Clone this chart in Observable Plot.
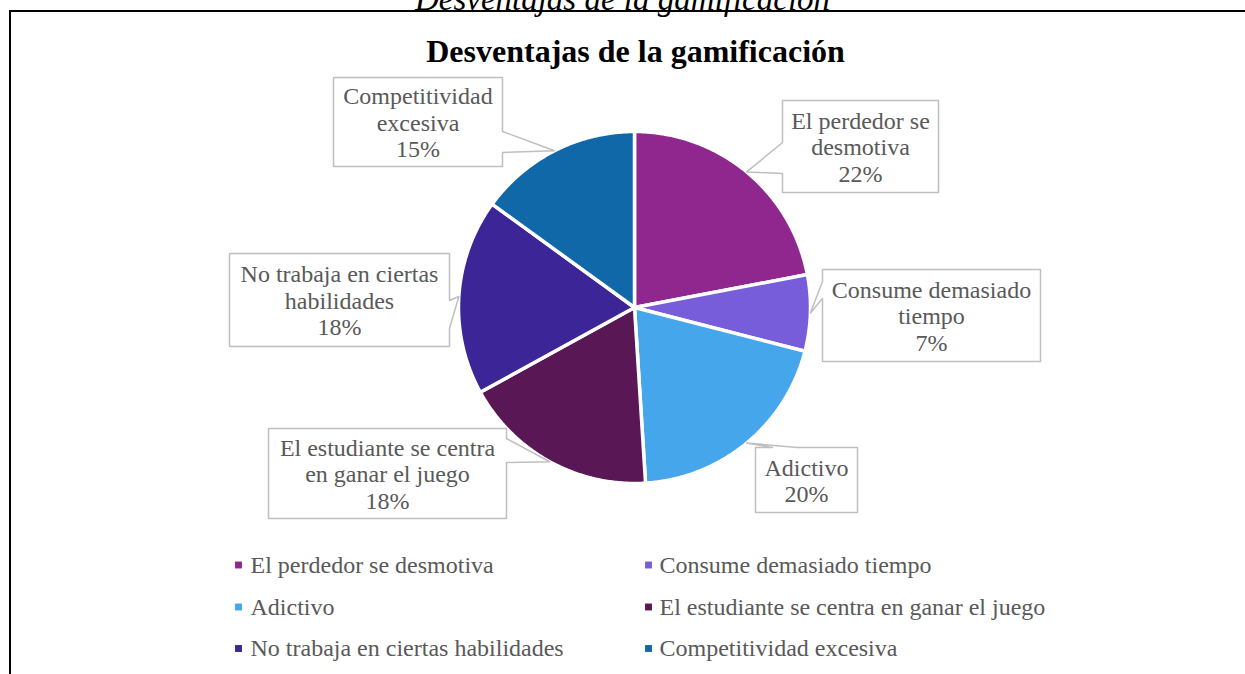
<!DOCTYPE html>
<html><head><meta charset="utf-8">
<script src="https://cdn.jsdelivr.net/npm/d3@7"></script>
<script src="https://cdn.jsdelivr.net/npm/@observablehq/plot@0.6"></script>
<style>
html,body{margin:0;padding:0;background:#fff;overflow:hidden;width:1245px;height:674px;}
#frame{position:absolute;left:9px;top:10px;width:1400px;height:800px;border-top:2px solid #000;border-left:2px solid #000;}
#chart{position:absolute;left:0;top:0;}
</style></head><body>
<div id="frame"></div>
<div id="chart"></div>
<script>
// ---- data ----
const title = "Desventajas de la gamificación";
const categories = [
  "El perdedor se desmotiva",
  "Consume demasiado tiempo",
  "Adictivo",
  "El estudiante se centra en ganar el juego",
  "No trabaja en ciertas habilidades",
  "Competitividad excesiva"
];
const percents = [22, 7, 20, 18, 18, 15];
const labelLines = [
  ["El perdedor se", "desmotiva"],
  ["Consume demasiado", "tiempo"],
  ["Adictivo"],
  ["El estudiante se centra", "en ganar el juego"],
  ["No trabaja en ciertas", "habilidades"],
  ["Competitividad", "excesiva"]
];
const colors = ["#90278e", "#775dd9", "#46a6ec", "#5a1755", "#3b2597", "#1168a8"];

// ---- layout (pixels) ----
const W = 1245, H = 674, CX = 634, CY = 307, R = 176;
const callouts = [
  {box: [782, 100, 938, 192], side: "left",  base: [142, 173]},
  {box: [822, 269, 1040, 361], side: "left", base: [281, 298]},
  {box: [755, 447, 857, 512], side: "top",   base: [772, 797]},
  {box: [268, 428, 506, 518], side: "right", base: [438, 462]},
  {box: [229, 253, 449, 346], side: "right", base: [300, 328]},
  {box: [333, 77, 502, 166], side: "right",  base: [131, 152]}
];
const legendRows = [564.5, 606.5, 648];
const legendMarkX = [238, 648];
const legendTextX = [250, 659];
const FS = 24, LH = 26.5;
const gray = "#595959";

const ux = px => (px - CX) / R;
const uy = py => (CY - py) / R;

// ---- pie geometry from data ----
const arcs = d3.pie().sort(null).value(d => d)(percents);
const slicePts = [];
arcs.forEach((a, i) => {
  const cat = categories[i];
  slicePts.push({cat, x: 0, y: 0});
  const n = Math.max(2, Math.ceil((a.endAngle - a.startAngle) / (Math.PI / 360)));
  for (let k = 0; k <= n; k++) {
    const t = a.startAngle + (a.endAngle - a.startAngle) * k / n;
    slicePts.push({cat, x: Math.sin(t), y: Math.cos(t)});
  }
});

// ---- callouts ----
const calloutPts = [];
const calloutText = [];
arcs.forEach((a, i) => {
  const c = callouts[i];
  const mid = (a.startAngle + a.endAngle) / 2;
  const tip = [Math.sin(mid) * 1.0, Math.cos(mid) * 1.0];
  const [x0, y0, x1, y1] = c.box;
  const [b0, b1] = c.base;
  let pts;
  if (c.side === "left") {
    pts = [[ux(x0), uy(y0)], [ux(x1), uy(y0)], [ux(x1), uy(y1)], [ux(x0), uy(y1)], [ux(x0), uy(b1)], tip, [ux(x0), uy(b0)]];
  } else if (c.side === "right") {
    pts = [[ux(x0), uy(y0)], [ux(x1), uy(y0)], [ux(x1), uy(b0)], tip, [ux(x1), uy(b1)], [ux(x1), uy(y1)], [ux(x0), uy(y1)]];
  } else {
    pts = [[ux(x0), uy(y0)], [ux(b0), uy(y0)], tip, [ux(b1), uy(y0)], [ux(x1), uy(y0)], [ux(x1), uy(y1)], [ux(x0), uy(y1)]];
  }
  pts.forEach(p => calloutPts.push({id: i, x: p[0], y: p[1]}));
  calloutText.push({
    x: ux((x0 + x1) / 2), y: uy((y0 + y1) / 2 + 0.5),
    text: [...labelLines[i], percents[i] + "%"].join("\n")
  });
});

// ---- legend ----
const legend = categories.map((cat, i) => ({
  cat,
  mx: ux(legendMarkX[i % 2]), tx: ux(legendTextX[i % 2]),
  y: uy(legendRows[Math.floor(i / 2)])
}));

const chart = Plot.plot({
  width: W, height: H, margin: 0,
  x: {domain: [-1, 1], range: [CX - R, CX + R], axis: null},
  y: {domain: [-1, 1], range: [CY + R, CY - R], axis: null},
  color: {domain: categories, range: colors},
  style: {fontFamily: "'Liberation Serif', 'Times New Roman', serif", background: "transparent", overflow: "visible"},
  marks: [
    Plot.text([title], {x: ux(622), y: uy(-1.5), text: d => d, fontSize: 33, fontStyle: "italic", fill: "#000"}),
    Plot.text([title], {x: ux(635), y: uy(51), text: d => d, fontSize: 32, fontWeight: "bold", fill: "#000"}),
    Plot.line(slicePts, {x: "x", y: "y", z: "cat", fill: "cat", stroke: "#fff", strokeWidth: 3.5, curve: "linear-closed"}),
    Plot.line(calloutPts, {x: "x", y: "y", z: "id", fill: "#fff", stroke: "#bfbfbf", strokeWidth: 1.5, curve: "linear-closed"}),
    Plot.text(calloutText, {x: "x", y: "y", text: "text", fontSize: FS, lineHeight: LH / FS, fill: gray}),
    Plot.dot(legend, {x: "mx", y: "y", fill: "cat", symbol: "square", r: 3.9, stroke: null}),
    Plot.text(legend, {x: "tx", y: "y", text: "cat", textAnchor: "start", fontSize: FS, fill: gray})
  ]
});
document.getElementById("chart").appendChild(chart);
</script>
</body></html>
